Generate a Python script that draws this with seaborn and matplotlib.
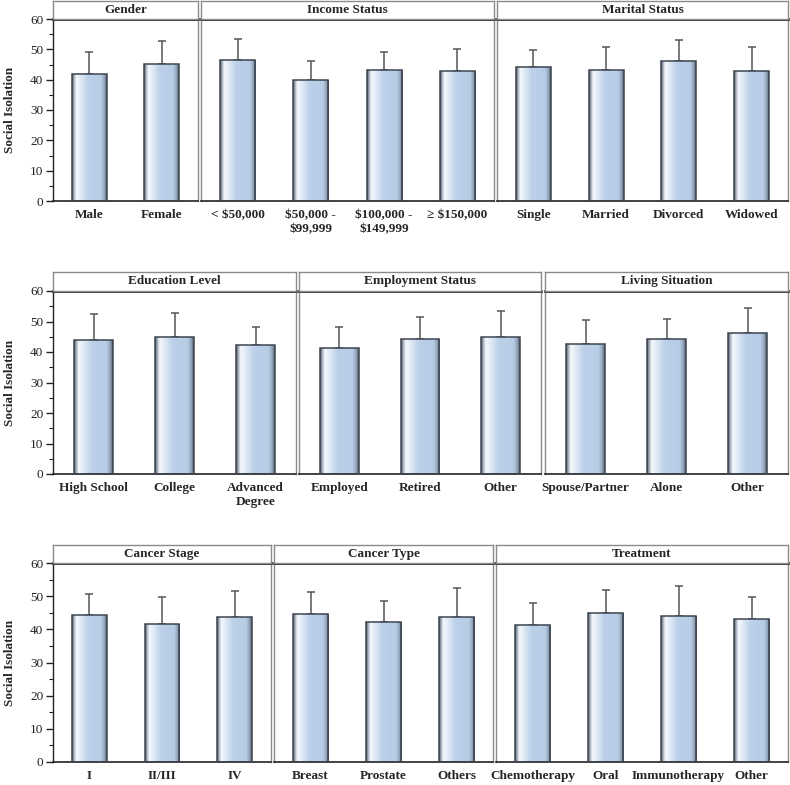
import numpy as np
import pandas as pd
import matplotlib
matplotlib.use("Agg")
import matplotlib.pyplot as plt
from matplotlib.colors import LinearSegmentedColormap
import seaborn as sns

# group means and (upper) standard deviations
gender_cats = ["Male", "Female"]
gender_mean = [42.0, 45.2]
gender_sd = [7.1, 7.4]

income_cats = ["< $50,000", "$50,000 -\n$99,999", "$100,000 -\n$149,999", "≥ $150,000"]
income_mean = [46.5, 39.8, 43.1, 42.8]
income_sd = [6.9, 6.4, 6.0, 7.3]

marital_cats = ["Single", "Married", "Divorced", "Widowed"]
marital_mean = [44.3, 43.1, 46.0, 43.0]
marital_sd = [5.6, 7.8, 7.0, 7.7]

edu_cats = ["High School", "College", "Advanced\nDegree"]
edu_mean = [43.9, 44.9, 42.2]
edu_sd = [8.5, 7.8, 6.1]

emp_cats = ["Employed", "Retired", "Other"]
emp_mean = [41.2, 44.2, 44.8]
emp_sd = [7.1, 7.4, 8.5]

living_cats = ["Spouse/Partner", "Alone", "Other"]
living_mean = [42.7, 44.2, 46.1]
living_sd = [7.7, 6.5, 8.4]

stage_cats = ["I", "II/III", "IV"]
stage_mean = [44.3, 41.5, 43.8]
stage_sd = [6.4, 8.1, 7.7]

type_cats = ["Breast", "Prostate", "Others"]
type_mean = [44.5, 42.2, 43.8]
type_sd = [6.9, 6.2, 8.7]

treat_cats = ["Chemotherapy", "Oral", "Immunotherapy", "Other"]
treat_mean = [41.3, 44.8, 43.9, 43.1]
treat_sd = [6.6, 7.2, 9.2, 6.5]

panels = [
    ("Gender", gender_cats, gender_mean, gender_sd),
    ("Income Status", income_cats, income_mean, income_sd),
    ("Marital Status", marital_cats, marital_mean, marital_sd),
    ("Education Level", edu_cats, edu_mean, edu_sd),
    ("Employment Status", emp_cats, emp_mean, emp_sd),
    ("Living Situation", living_cats, living_mean, living_sd),
    ("Cancer Stage", stage_cats, stage_mean, stage_sd),
    ("Cancer Type", type_cats, type_mean, type_sd),
    ("Treatment", treat_cats, treat_mean, treat_sd),
]

sns.set_style("white")
plt.rcParams["font.family"] = ["Liberation Serif", "DejaVu Serif"]
plt.rcParams["text.parse_math"] = False

W, H = 790, 785
fig = plt.figure(figsize=(W / 100, H / 100), dpi=100)

# pixel layout: (header top, plot top, plot bottom, [(x0, x1), ...])
rows = [
    (1, 19, 201, [(53, 198), (201, 494), (497, 788)]),
    (272, 291, 474, [(53, 296), (299, 541), (545, 788)]),
    (545, 563, 762, [(53, 271), (274, 493), (496, 788)]),
]

grad = LinearSegmentedColormap.from_list("bar", [
    (0.0, "#4d5864"), (0.06, "#aab4c0"), (0.12, "#f6f9fc"),
    (0.45, "#bcd1e9"), (0.84, "#b7cce5"), (0.94, "#8fa1b6"), (1.0, "#4d5864")])
gimg = np.linspace(0, 1, 128).reshape(1, -1)
grey = "#8a8a8a"

k = 0
for hdr_top, top, bot, xs in rows:
    for j, (x0, x1) in enumerate(xs):
        title, cats, means, sds = panels[k]
        k += 1
        ax = fig.add_axes([x0 / W, 1 - bot / H, (x1 - x0) / W, (bot - top) / H])
        df = pd.DataFrame({"cat": cats, "mean": means})
        sns.barplot(data=df, x="cat", y="mean", ax=ax, width=0.48,
                    color="#b9cee7", edgecolor="#3d4550", linewidth=1.1, zorder=3)
        n = len(cats)
        ax.errorbar(np.arange(n), means, yerr=[np.zeros(n), sds], fmt="none",
                    ecolor="#555555", elinewidth=1.1, capsize=3, capthick=1.1, zorder=1)
        for p in ax.patches:
            bx, by = p.get_x(), p.get_y()
            im = ax.imshow(gimg, extent=[bx, bx + p.get_width(), by, by + p.get_height()],
                           aspect="auto", cmap=grad, zorder=2, interpolation="bilinear")
            im.set_clip_path(p)
            p.set_facecolor("none")
        ax.set_xlim(-0.5, n - 0.5)
        ax.set_ylim(0, 60)
        ax.set_xlabel("")
        ax.tick_params(axis="x", length=0, pad=6, labelsize=9.5)
        for lab in ax.get_xticklabels():
            lab.set_fontweight("bold")
        for s in ["right", "left"]:
            ax.spines[s].set_color(grey)
            ax.spines[s].set_linewidth(1.0)
        ax.spines["top"].set_color("black")
        ax.spines["top"].set_linewidth(1.8)
        ax.spines["bottom"].set_color("#222222")
        ax.spines["bottom"].set_linewidth(1.2)
        if j == 0:
            ax.spines["left"].set_color("#222222")
            ax.set_yticks(range(0, 61, 10))
            ax.set_yticks(range(5, 60, 10), minor=True)
            ax.tick_params(axis="y", which="major", direction="out", length=5,
                           width=1, left=True, labelsize=9.5, pad=2, colors="#222222")
            ax.tick_params(axis="y", which="minor", direction="out", length=3,
                           width=0.8, left=True, colors="#222222")
            ax.set_ylabel("Social Isolation", fontsize=9.5, fontweight="bold", labelpad=10)
        else:
            ax.set_yticks([])
            ax.set_ylabel("")
        # facet header strip
        hx = fig.add_axes([x0 / W, 1 - top / H, (x1 - x0) / W, (top - hdr_top) / H])
        hx.set_xticks([])
        hx.set_yticks([])
        for s in hx.spines.values():
            s.set_color(grey)
            s.set_linewidth(1.0)
        hx.text(0.5, 0.5, title, ha="center", va="center", fontsize=9.5,
                fontweight="bold", transform=hx.transAxes)

fig.savefig("out.png", dpi=100)
